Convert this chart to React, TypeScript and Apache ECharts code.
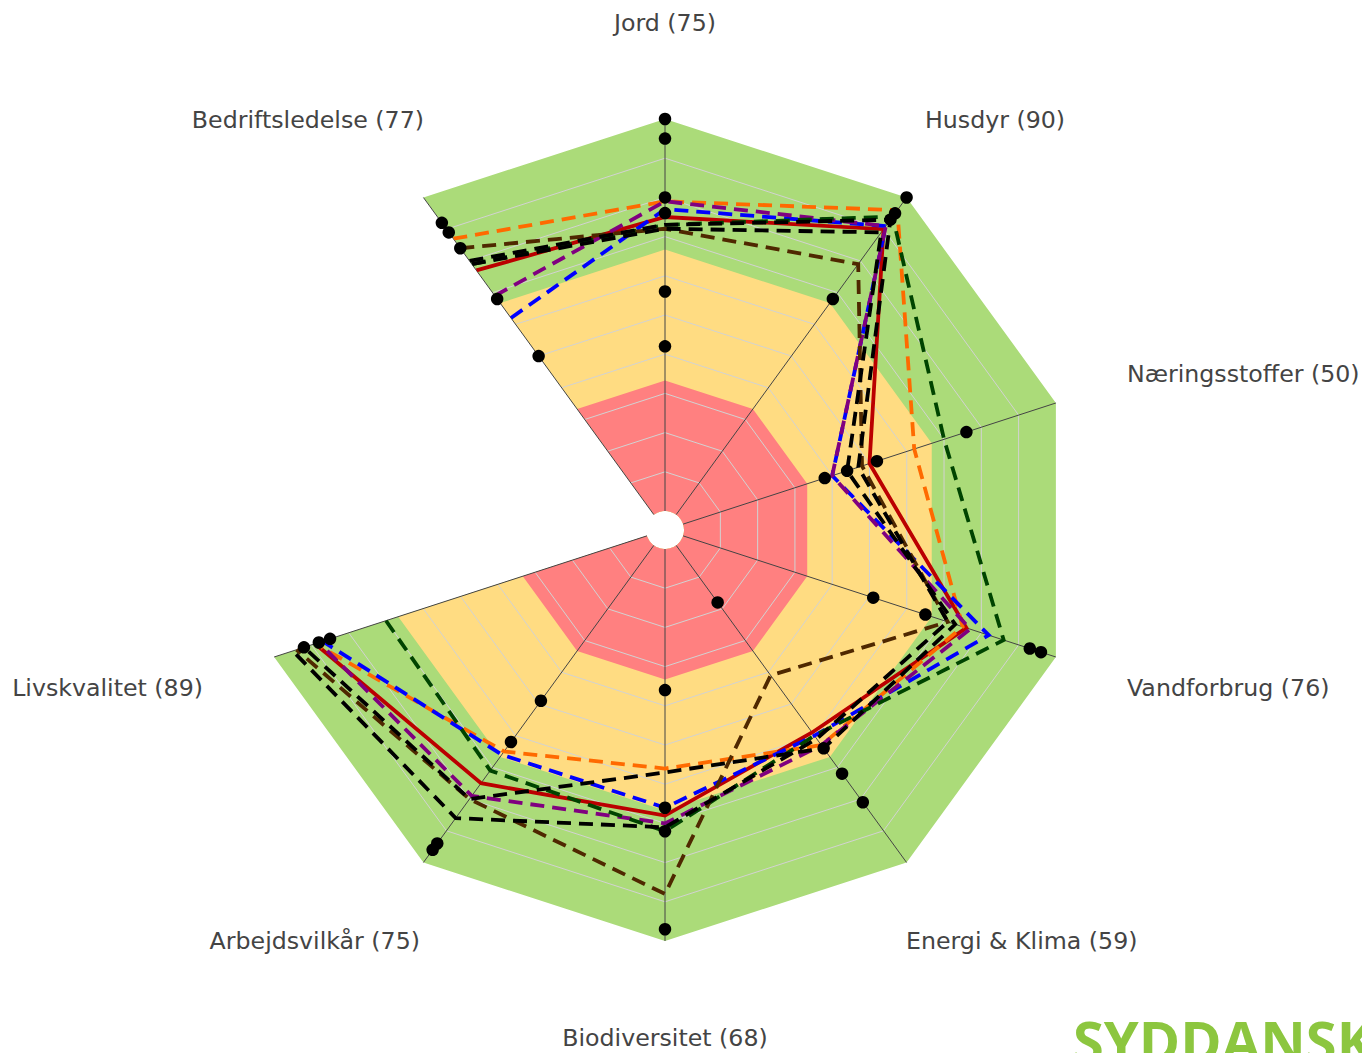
import { useEffect, useRef } from 'react';
import * as echarts from 'echarts';

// Axis categories (clockwise, starting at Bedriftsledelse); the last, empty one is the gap
const categories = ['Bedriftsledelse', 'Jord', 'Husdyr', 'Næringsstoffer', 'Vandforbrug', 'Energi & Klima', 'Biodiversitet', 'Arbejdsvilkår', 'Livskvalitet'];
const gapCategory = '';

// Series values in category order
const farmScores = [77, 75, 90, 50, 76, 59, 68, 75, 89];
const orangeValues = [87, 79, 96, 62, 75, 63, 56, 65, 89];
const blueValues = [62, 77, 91, 40, 82, 60, 66, 66, 87];
const purpleValues = [69, 79, 91, 40, 77, 63, 70, 79, 88];
const greenValues = [79, 73, 94, 70, 86, 60, 72, 71, 70];
const brownValues = [84, 72, 79, 48, 71, 41, 88, 80, 94];
const blackAValues = [80, 73, 93, 47, 71, 61, 71, 86, 95];
const blackBValues = [79, 72, 89, 44, 73, 64, 57, 80, 92];

// Loose black dots on each axis
const dotValues = [
  [92, 89, 84, 68, 50],
  [100, 95, 80, 76, 56, 42],
  [100, 95, 93, 68],
  [76, 52, 44, 38],
  [96, 93, 65, 51],
  [81, 72, 64, 18],
  [97, 72, 66, 36],
  [96, 94, 62, 49],
  [92, 88, 85],
];

// Band limits (green, yellow, red) and grid levels
const bandLimits = [100, 66.7, 33.3];
const gridLevels = [10, 20, 30, 40, 50, 60, 70, 80, 90];

// ---- styling / layout ----
const CENTER = [665, 530];
const RADIUS = [19, 411];
const bandColors = ['#abdb79', '#ffdc82', '#ff8080'];
const labelLayout = [
  { x: 424, y: 120, align: 'right' },
  { x: 665, y: 23, align: 'center' },
  { x: 925, y: 120, align: 'left' },
  { x: 1127, y: 374, align: 'left' },
  { x: 1127, y: 688, align: 'left' },
  { x: 906, y: 941, align: 'left' },
  { x: 665, y: 1038, align: 'center' },
  { x: 420, y: 941, align: 'right' },
  { x: 203, y: 688, align: 'right' },
];
const DASH = [14, 8];
const lineDefs = [
  { data: farmScores, color: '#bb0000', dashed: false },
  { data: orangeValues, color: '#ff6a00', dashed: true },
  { data: blueValues, color: '#0000ff', dashed: true },
  { data: purpleValues, color: '#800080', dashed: true },
  { data: greenValues, color: '#004400', dashed: true },
  { data: brownValues, color: '#4f2800', dashed: true },
  { data: blackAValues, color: '#000000', dashed: true },
  { data: blackBValues, color: '#000000', dashed: true },
];

export default function App() {
  const ref = useRef<HTMLDivElement>(null);
  useEffect(() => {
    document.body.style.margin = '0';
    const chart = echarts.init(ref.current!, undefined, { renderer: 'svg' });
    const angleData = [...categories, gapCategory];
    const radialColors = angleData.map((c) => (c === gapCategory ? 'rgba(0,0,0,0)' : '#444444'));

    const bandSeries = bandLimits.map((lim, k) => ({
      type: 'line',
      coordinateSystem: 'polar',
      data: categories.map(() => lim),
      symbol: 'none',
      lineStyle: { opacity: 0, width: 0 },
      areaStyle: { color: bandColors[k], opacity: 1, origin: 'start' },
      z: 1 + k * 0.1,
      silent: true,
      clip: false,
    }));
    const gridSeries = gridLevels.map((lv) => ({
      type: 'line',
      coordinateSystem: 'polar',
      data: categories.map(() => lv),
      symbol: 'none',
      lineStyle: { color: '#d2d2d2', width: 1 },
      z: 1.5,
      silent: true,
      clip: false,
    }));
    const dataSeries = lineDefs.map((d) => ({
      type: 'line',
      coordinateSystem: 'polar',
      data: d.data,
      symbol: 'none',
      lineStyle: { color: d.color, width: 3.8, type: d.dashed ? DASH : 'solid', join: 'miter' },
      z: 3,
      clip: false,
    }));
    const dotData: number[][] = [];
    dotValues.forEach((vals, i) => vals.forEach((v) => dotData.push([v, i])));

    chart.setOption({
      animation: false,
      polar: { center: CENTER, radius: RADIUS },
      angleAxis: {
        type: 'category',
        data: angleData,
        startAngle: 126,
        clockwise: true,
        boundaryGap: false,
        axisLine: { show: false },
        axisTick: { show: false, interval: 0 },
        axisLabel: { show: false, interval: 0 },
        splitLine: { show: true, interval: 0, lineStyle: { color: radialColors, width: 1 } },
        z: 2,
      },
      radiusAxis: {
        type: 'value',
        min: 0,
        max: 100,
        axisLine: { show: false },
        axisTick: { show: false },
        axisLabel: { show: false },
        splitLine: { show: false },
      },
      series: [
        ...bandSeries,
        ...gridSeries,
        ...dataSeries,
        {
          type: 'scatter',
          coordinateSystem: 'polar',
          data: dotData,
          symbol: 'circle',
          symbolSize: 12.5,
          itemStyle: { color: '#000000', opacity: 1 },
          z: 4,
          clip: false,
        },
      ],
      graphic: [
        ...labelLayout.map((p, i) => ({
          type: 'text',
          x: p.x,
          y: p.y,
          style: {
            text: `${categories[i]} (${farmScores[i]})`,
            fill: '#444444',
            fontSize: 23.7,
            fontFamily: 'DejaVu Sans',
            align: p.align,
            textAlign: p.align,
            verticalAlign: 'middle',
            textVerticalAlign: 'middle',
          },
        })),
        {
          type: 'text',
          x: 1073,
          y: 1040,
          style: {
            text: 'SYDDANSK',
            fill: '#8cc63f',
            fontSize: 56,
            fontWeight: 'bold',
            fontFamily: 'Open Sans',
            align: 'left',
            textAlign: 'left',
            verticalAlign: 'middle',
            textVerticalAlign: 'middle',
          },
        },
      ],
    });
    return () => chart.dispose();
  }, []);
  return <div ref={ref} style={{ width: 1362, height: 1053 }} />;
}
